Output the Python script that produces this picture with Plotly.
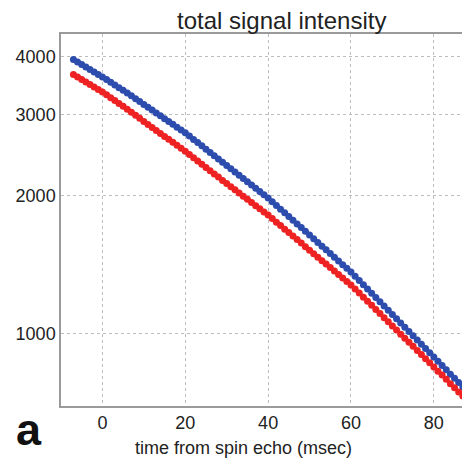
import plotly.graph_objects as go

# time from spin echo (msec)
time_ms = list(range(-7, 88))

# blue series (upper)
blue_vals = [3949, 3900, 3852, 3804, 3757, 3711, 3665, 3620,
             3572, 3524, 3477, 3431, 3385, 3341, 3293, 3247, 3201, 3155,
             3111, 3067, 3023, 2980, 2938, 2897, 2856, 2815, 2775, 2736,
             2692, 2648, 2606, 2564, 2522, 2481, 2441, 2402, 2363, 2325,
             2287, 2250, 2214, 2178, 2143, 2108, 2074, 2041, 2008, 1975,
             1939, 1903, 1868, 1834, 1800, 1767, 1735, 1703, 1672, 1641,
             1611, 1581, 1552, 1524, 1496, 1468, 1441, 1415, 1389, 1364,
             1335, 1307, 1280, 1253, 1226, 1200, 1175, 1150, 1126, 1102,
             1079, 1056, 1034, 1012, 991, 970, 950, 930, 910, 891,
             872, 854, 836, 818, 801, 784, 768]

# red series (lower)
red_vals = [3665, 3619, 3575, 3530, 3487, 3444, 3401, 3359,
            3311, 3263, 3216, 3170, 3124, 3080, 3033, 2987, 2942, 2896,
            2854, 2812, 2770, 2728, 2688, 2649, 2610, 2571, 2532, 2495,
            2455, 2416, 2377, 2339, 2301, 2264, 2228, 2193, 2157, 2123,
            2089, 2057, 2025, 1993, 1962, 1931, 1901, 1872, 1842, 1813,
            1782, 1750, 1720, 1690, 1661, 1632, 1604, 1576, 1548, 1521,
            1495, 1469, 1443, 1419, 1394, 1370, 1346, 1323, 1300, 1278,
            1252, 1227, 1202, 1178, 1154, 1130, 1108, 1085, 1063, 1041,
            1020, 999, 979, 959, 940, 921, 902, 884, 866, 848,
            830, 814, 797, 780, 764, 748, 733]

x_ticks = [0, 20, 40, 60, 80]
y_ticks = [1000, 2000, 3000, 4000]
y_tick_labels = ["1000", "2000", "3000", "4000"]

FONT = "Liberation Sans, Arial, sans-serif"

fig = go.Figure()
fig.add_trace(go.Scatter(x=time_ms, y=blue_vals, mode="markers",
                         marker=dict(color="#2c4cae", size=7, line=dict(width=0)),
                         showlegend=False, cliponaxis=True))
fig.add_trace(go.Scatter(x=time_ms, y=red_vals, mode="markers",
                         marker=dict(color="#ee2222", size=7, line=dict(width=0)),
                         showlegend=False, cliponaxis=True))

fig.update_layout(
    width=462, height=458,
    margin=dict(l=61, r=0, t=34, b=52),
    paper_bgcolor="white", plot_bgcolor="white",
    font=dict(family=FONT, size=18, color="#222"),
    xaxis=dict(range=[-10, 86.8], tickvals=x_ticks, showgrid=True,
               gridcolor="#bdbdbd", griddash="dot", gridwidth=1,
               showline=True, linecolor="#9a9a9a", linewidth=1.5, mirror=True,
               ticks="", zeroline=False, tickfont=dict(size=18)),
    yaxis=dict(type="log", range=[2.8435, 3.652], tickvals=y_ticks,
               ticktext=y_tick_labels, showgrid=True,
               gridcolor="#bdbdbd", griddash="dot", gridwidth=1,
               showline=True, linecolor="#9a9a9a", linewidth=1.5, mirror=False,
               ticks="", zeroline=False, tickfont=dict(size=18)),
    annotations=[
        dict(text="total signal intensity", xref="paper", yref="paper",
             x=0.551, y=1.0, yshift=-2, xanchor="center", yanchor="bottom",
             showarrow=False, font=dict(size=24, color="#222")),
        dict(text="time from spin echo (msec)", xref="paper", yref="paper",
             x=0.454, y=-0.112, xanchor="center", yanchor="middle",
             showarrow=False, font=dict(size=18, color="#222")),
        dict(text="<b>a</b>", xref="paper", yref="paper",
             x=-0.08, y=-0.137, xanchor="center", yanchor="bottom",
             showarrow=False, font=dict(size=45, color="#111")),
    ],
)

fig.write_html("out.html")
